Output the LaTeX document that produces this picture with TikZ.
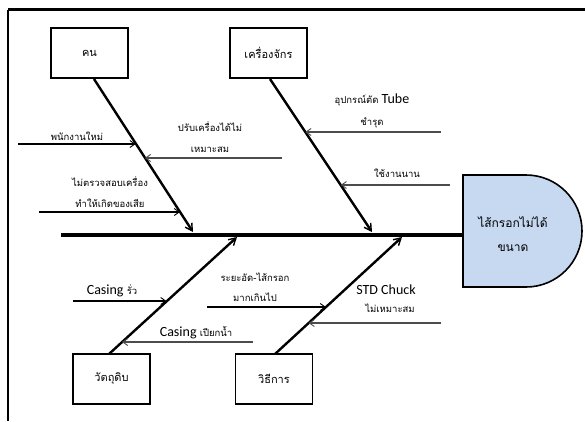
\documentclass[tikz,border=0pt]{standalone}
\usepackage{fontspec}
\setmainfont{Carlito}
\newfontfamily\thai[Script=Thai]{Loma}
\usetikzlibrary{arrows.meta,calc}
\definecolor{headblue}{RGB}{198,217,241}
\begin{document}
\begin{tikzpicture}[x=1pt,y=-1pt,
  catbox/.style={draw,line width=1.6pt,minimum width=77pt,minimum height=50pt,inner sep=0pt,font=\thai\fontsize{11}{13}\selectfont},
  bone/.style={line width=2.4pt,-{Straight Barb[length=7pt,width=8pt,line width=1.4pt]}},
  sub/.style={line width=1.1pt,-{Straight Barb[length=5pt,width=7pt,line width=0.9pt]}},
  subg/.style={sub,draw=black!70},
  lbl/.style={inner sep=0pt,font=\thai\fontsize{9.5}{11}\selectfont},
  headlbl/.style={inner sep=0pt,font=\thai\fontsize{12}{14}\selectfont},
  lat/.style={inner sep=0pt,font=\fontsize{14}{16}\selectfont}]
\useasboundingbox (0,0) rectangle (585,421);
% frame
\draw[line width=3pt] (8,9.5) -- (585,9.5);
\draw[line width=2pt] (8,9.5) -- (8,421);
% head
\draw[line width=1.6pt,fill=headblue] (463,175) -- (526,175) arc[start angle=-90,end angle=90,radius=56] -- (463,287) -- cycle;
\node[headlbl] (h1) at (513,222) {ไส้กรอกไม่ได้};
\node[headlbl] (h2) at (513,248) {ขนาด};
\coordinate (hw) at (463,235);
% spine
\coordinate (spL) at (61,235);
\draw[line width=4pt] (spL) -- (hw);
% category boxes
\node[catbox] (man) at (89.5,53) {คน};
\node[catbox] (mach) at (268.5,53) {เครื่องจักร};
\node[catbox] (mat) at (111.5,379) {วัตถุดิบ};
\node[catbox] (meth) at (274,379) {วิธีการ};
% bones
\coordinate (m1) at (94,79);   \coordinate (e1) at (193,232);
\coordinate (m2) at (270,79);  \coordinate (e2) at (372,232);
\coordinate (m3) at (109,354); \coordinate (e3) at (237,237);
\coordinate (m4) at (275,354); \coordinate (e4) at (402,237);
\draw[bone] (m1) -- (e1);
\draw[bone] (m2) -- (e2);
\draw[bone] (m3) -- (e3);
\draw[bone] (m4) -- (e4);
% sub causes: man
\coordinate (a1s) at (18,144);  \coordinate (a1e) at (135.7,144);
\draw[sub] (a1s) -- (a1e);
\node[lbl] (t1) at (77,136) {พนักงานใหม่};
\coordinate (a2s) at (282,158); \coordinate (a2e) at (144.8,158);
\draw[subg] (a2s) -- (a2e);
\node[lbl] (t2a) at (210,127) {ปรับเครื่องได้ไม่};
\node[lbl] (t2b) at (210,150) {เหมาะสม};
\coordinate (a3s) at (39,212);  \coordinate (a3e) at (180,212);
\draw[sub] (a3s) -- (a3e);
\node[lbl] (t3a) at (110,182) {ไม่ตรวจสอบเครื่อง};
\node[lbl] (t3b) at (110,203) {ทำให้เกิดของเสีย};
% machine
\coordinate (a4s) at (441,132); \coordinate (a4e) at (305.3,132);
\draw[subg] (a4s) -- (a4e);
\node[lbl] (t4a) at (372,100) {อุปกรณ์ตัด \fontspec{Carlito}\fontsize{14}{16}\selectfont Tube};
\node[lbl] (t4b) at (372,123) {ชำรุด};
\coordinate (a5s) at (450,185); \coordinate (a5e) at (340.7,185);
\draw[subg] (a5s) -- (a5e);
\node[lbl] (t5) at (397,173) {ใช้งานนาน};
% material
\coordinate (a6s) at (73,301);  \coordinate (a6e) at (166.5,301);
\draw[sub] (a6s) -- (a6e);
\node[lat] (t6) at (112,291) {Casing {\thai\fontsize{9.5}{11}\selectfont รั่ว}};
\coordinate (a7s) at (253,342); \coordinate (a7e) at (122,342);
\draw[subg] (a7s) -- (a7e);
\node[lat] (t7) at (196,333) {Casing {\thai\fontsize{9.5}{11}\selectfont เปียกน้ำ}};
% method
\coordinate (a8s) at (207,307); \coordinate (a8e) at (326,307);
\draw[sub] (a8s) -- (a8e);
\node[lbl] (t8a) at (255,277) {ระยะอัด-ไส้กรอก};
\node[lbl] (t8b) at (255,297) {มากเกินไป};
\coordinate (a9s) at (441,323); \coordinate (a9e) at (308.6,323);
\draw[subg] (a9s) -- (a9e);
\node[lat] (t9a) at (386,290) {STD Chuck};
\node[lbl] (t9b) at (390,308) {ไม่เหมาะสม};
\end{tikzpicture}
\end{document}
